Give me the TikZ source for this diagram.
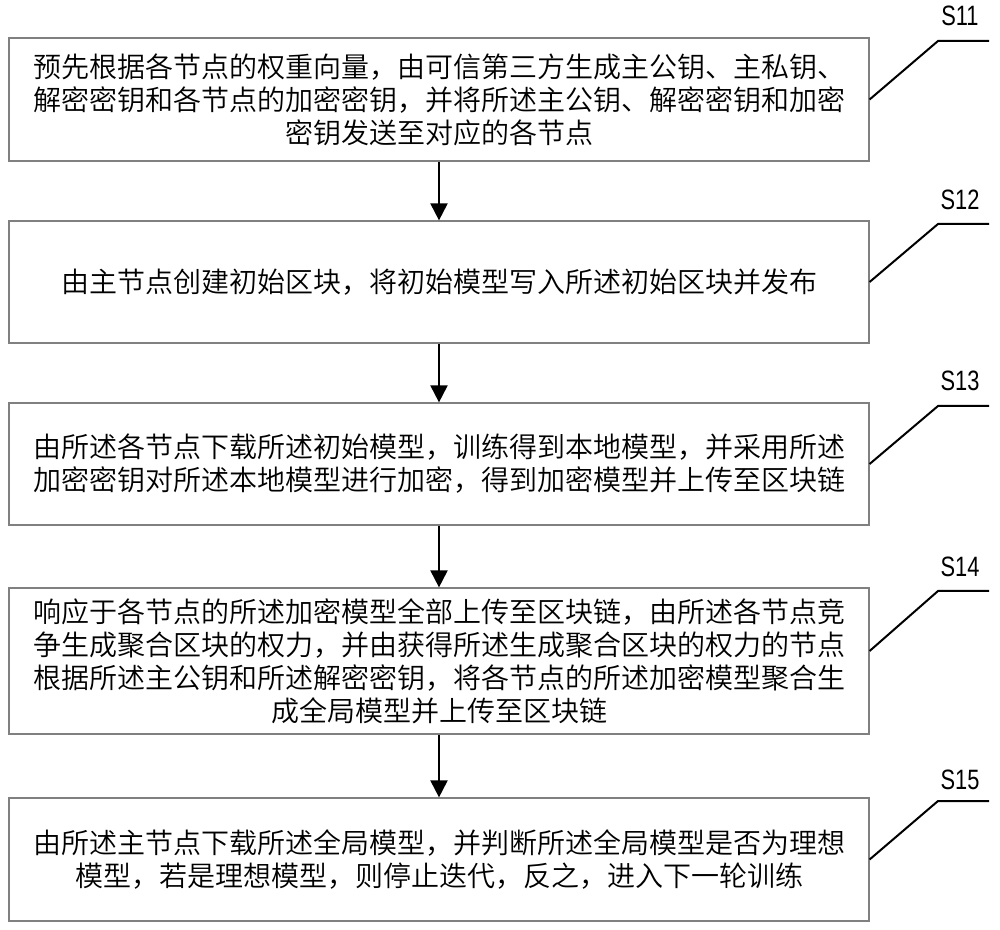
\documentclass[tikz,border=0pt]{standalone}
\usepackage{fontspec}
\usepackage{tikz}
\usetikzlibrary{arrows.meta}
\setmainfont{Noto Sans CJK SC}[UprightFont={* DemiLight}]
\newfontfamily\stepfont[FakeStretch=0.78]{Liberation Sans}
\definecolor{framegray}{RGB}{128,128,128}

\begin{document}
\begin{tikzpicture}[x=1pt,y=1pt]
			\useasboundingbox (0,0) rectangle (1000,929);
			\begin{scope}[every node/.style={rectangle,draw=framegray,line width=1.2pt,minimum width=860pt,align=center,inner sep=0pt,font=\fontsize{28}{33}\selectfont}]
				\node[minimum height=123pt] (s11) at (439,829.5) {预先根据各节点的权重向量，由可信第三方生成主公钥、主私钥、\\解密密钥和各节点的加密密钥，并将所述主公钥、解密密钥和加密\\密钥发送至对应的各节点};
				\node[minimum height=122pt] (s12) at (439,647) {由主节点创建初始区块，将初始模型写入所述初始区块并发布};
				\node[minimum height=122pt] (s13) at (439,465) {由所述各节点下载所述初始模型，训练得到本地模型，并采用所述\\加密密钥对所述本地模型进行加密，得到加密模型并上传至区块链};
				\node[minimum height=146pt] (s14) at (439,268) {响应于各节点的所述加密模型全部上传至区块链，由所述各节点竞\\争生成聚合区块的权力，并由获得所述生成聚合区块的权力的节点\\根据所述主公钥和所述解密密钥，将各节点的所述加密模型聚合生\\成全局模型并上传至区块链};
				\node[minimum height=123pt] (s15) at (439,69.5) {由所述主节点下载所述全局模型，并判断所述全局模型是否为理想\\模型，若是理想模型，则停止迭代，反之，进入下一轮训练};
			\end{scope}
			
			\begin{scope}[every node/.style={font=\stepfont\fontsize{28}{28}\selectfont}]
				\node (l11) at (960,913) {S11};
				\node (l12) at (960,729) {S12};
				\node (l13) at (960,548) {S13};
				\node (l14) at (960,362) {S14};
				\node (l15) at (960,149) {S15};
			\end{scope}
			
			\coordinate (k11) at (938,888);
			\coordinate (t11) at (989,888);
			\coordinate (k12) at (938,705);
			\coordinate (t12) at (989,705);
			\coordinate (k13) at (938,523);
			\coordinate (t13) at (989,523);
			\coordinate (k14) at (938,338);
			\coordinate (t14) at (989,338);
			\coordinate (k15) at (938,128);
			\coordinate (t15) at (989,128);
			
			\begin{scope}[line width=2pt]
				\draw (s11.east) -- (k11) -- (t11);
				\draw (s12.east) -- (k12) -- (t12);
				\draw (s13.east) -- (k13) -- (t13);
				\draw ([yshift=10pt]s14.east) -- (k14) -- (t14);
				\draw (s15.east) -- (k15) -- (t15);
			\end{scope}
			
			\begin{scope}[every edge/.style={draw=black,line width=2pt,-{Triangle[width=17pt,length=17pt]}}]
				\path (s11) edge (s12);
				\path (s12) edge (s13);
				\path (s13) edge (s14);
				\path (s14) edge (s15);
			\end{scope}
		\end{tikzpicture}
\end{document}
